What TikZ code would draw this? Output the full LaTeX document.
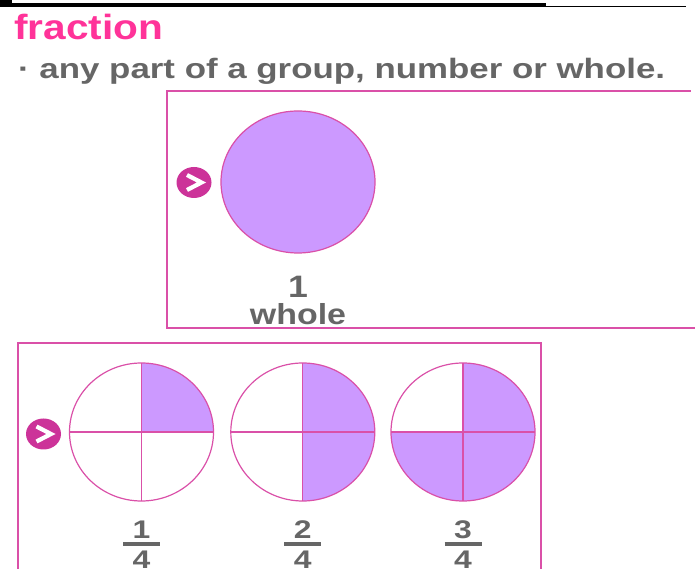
\documentclass[tikz,border=0pt]{standalone}
\usepackage{fontspec}
\setmainfont{Liberation Sans}
\usepackage{graphicx}
\definecolor{hotpink}{RGB}{255,51,153}
\definecolor{txtgray}{RGB}{102,102,102}
\definecolor{frame}{RGB}{218,80,168}
\definecolor{lilac}{RGB}{204,153,255}
\definecolor{plum}{RGB}{204,51,153}
\newcommand{\wide}[2]{\scalebox{#1}[1]{#2}}
\begin{document}
\begin{tikzpicture}[x=1pt,y=1pt,
    frameline/.style={frame, line width=2pt},
    pie/.style={frame, line width=1.2pt},
    lbl/.style={inner sep=0pt, text=txtgray, anchor=base},
    chevron/.style={white, line width=4.2pt}]
    \useasboundingbox (0,0) rectangle (695,569);
    % top rule
    \fill[black] (0,561.7) rectangle (546,566.3);
    \fill[black] (0,566) rectangle (12,569);
    \draw[line width=1.4pt] (546,562.5) -- (686,562.5);
    % heading
    \node[inner sep=0pt, anchor=base west, text=hotpink] (title) at (14,529.2)
      {\fontsize{35}{35}\selectfont\bfseries\wide{1.16}{fraction}};
    \node[lbl, anchor=base west] (defn) at (18,490.7)
      {\fontsize{28}{28}\selectfont\bfseries\wide{1.245}{· any part of a group, number or whole.}};
    % frames
    \draw[frameline] (690.7,477.7) -- (167,477.7) -- (167,241.3) -- (696,241.3);
    \draw[frameline] (18.3,-2) -- (18.3,225.5) -- (541.3,225.5) -- (541.3,-2);
    % one whole
    \fill[plum] (194,386.5) ellipse[x radius=17.5, y radius=15.5];
    \draw[chevron] (187,394) -- (201.5,386.5) -- (187,379);
    \draw[pie, fill=lilac] (298,387) ellipse[x radius=77, y radius=71];
    \node[lbl] (one) at (298,271.5) {\fontsize{31}{31}\selectfont\bfseries\wide{1.15}{1}};
    \node[lbl] (whole) at (298,244.5) {\fontsize{29}{29}\selectfont\bfseries\wide{1.17}{whole}};
    % quarters
    \fill[plum] (43.5,135) ellipse[x radius=17.5, y radius=15.5];
    \draw[chevron] (36.5,142.5) -- (51,135) -- (36.5,127.5);
    \foreach \cx/\k in {141.5/1,302.8/2,463/3} {
        \fill[lilac] (\cx,137) -- (\cx,206) arc[start angle=90, delta angle={-90*\k}, x radius=72, y radius=69] -- cycle;
        \draw[pie] (\cx,137) ellipse[x radius=72, y radius=69];
        \draw[pie] (\cx-72,137) -- (\cx+72,137) (\cx,68) -- (\cx,206);
        \node[lbl] (num\k) at (\cx,30.5) {\fontsize{25.5}{25.5}\selectfont\bfseries\wide{1.25}{\k}};
        \node[lbl] (den\k) at (\cx,0.5) {\fontsize{25.5}{25.5}\selectfont\bfseries\wide{1.25}{4}};
        \draw[txtgray, line width=3.5pt] (\cx-18.5,25) -- (\cx+18.5,25);
      }
  \end{tikzpicture}
\end{document}
